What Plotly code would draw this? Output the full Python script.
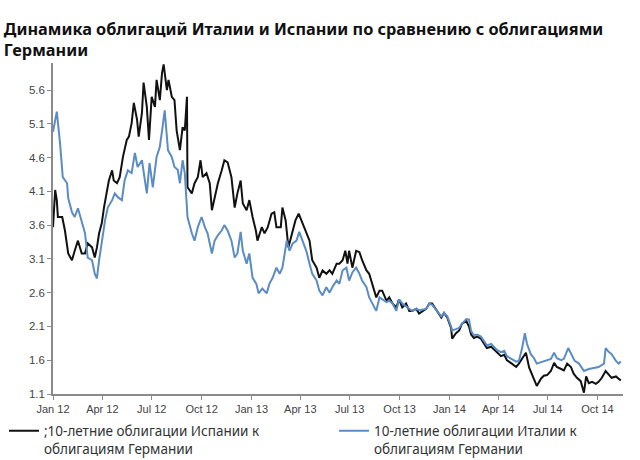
import pandas as pd
import plotly.graph_objects as go

# Days since 2012-01-01 and spread values (percentage points)
spain_day = [0, 4, 7, 9, 17, 22, 28, 35, 40, 46, 53, 59, 64, 72, 77, 81, 85, 90, 94, 99,
             103, 109, 112, 118, 123, 129, 136, 140, 145, 149, 155, 158, 164, 167, 173, 177, 182, 188, 191, 197,
             201, 204, 210, 213, 219, 224, 228, 234, 239, 243, 247, 248, 256, 261, 267, 272, 276, 283, 289, 293,
             298, 304, 311, 316, 322, 329, 335, 340, 346, 350, 357, 362, 368, 374, 377, 385, 390, 396, 403, 408,
             412, 420, 423, 429, 434, 442, 447, 453, 460, 467, 473, 478, 486, 491, 497, 504, 510, 515, 523, 528,
             534, 539, 543, 546, 552, 559, 565, 570, 578, 583, 589, 596, 602, 607, 615, 620, 626, 633, 638, 644,
             651, 657, 662, 670, 675, 688, 694, 699, 708, 716, 721, 727, 734, 736, 743, 749, 754, 762, 767, 771,
             776, 782, 789, 795, 800, 808, 813, 819, 826, 832, 837, 846, 854, 859, 865, 872, 878, 883, 891, 892,
             900, 905, 911, 918, 924, 929, 937, 942, 948, 955, 960, 966, 973, 979, 983, 988, 994, 1001, 1006, 1012,
             1019, 1025, 1030, 1038, 1043, 1047]
spain_val = [3.57, 4.12, 3.97, 3.72, 3.72, 3.52, 3.18, 3.08, 3.22, 3.37, 3.18, 3.18, 3.33, 3.27, 3.12, 3.27, 3.48, 3.63, 3.86, 4.07,
             4.26, 4.41, 4.26, 4.22, 4.31, 4.61, 4.86, 4.91, 5.11, 5.41, 5.16, 4.91, 5.26, 5.71, 5.35, 4.86, 5.50, 5.35, 5.75, 5.45,
             5.85, 5.98, 5.60, 5.75, 5.50, 5.45, 5.00, 4.71, 5.05, 5.00, 5.50, 4.16, 4.07, 4.22, 4.31, 4.56, 4.31, 4.37, 4.22, 3.82,
             4.01, 4.22, 4.41, 4.56, 4.53, 4.31, 3.86, 4.07, 4.26, 3.92, 3.82, 3.97, 3.72, 3.52, 3.37, 3.57, 3.48, 3.57, 3.77, 3.79,
             3.57, 3.57, 3.86, 3.67, 3.27, 3.52, 3.67, 3.77, 3.63, 3.48, 3.37, 3.08, 2.97, 2.82, 2.93, 2.88, 2.93, 2.88, 3.03, 3.03,
             3.08, 3.22, 3.03, 3.22, 2.97, 3.22, 3.20, 3.08, 2.93, 2.88, 2.73, 2.53, 2.63, 2.63, 2.48, 2.53, 2.44, 2.38, 2.50, 2.38,
             2.44, 2.33, 2.33, 2.36, 2.29, 2.36, 2.44, 2.44, 2.33, 2.23, 2.30, 2.23, 2.08, 1.92, 2.00, 2.04, 2.14, 2.18, 2.10, 1.98,
             1.93, 1.95, 1.92, 1.84, 1.78, 1.80, 1.76, 1.71, 1.66, 1.68, 1.60, 1.55, 1.50, 1.55, 1.63, 1.71, 1.49, 1.40, 1.26, 1.22,
             1.33, 1.37, 1.38, 1.44, 1.56, 1.50, 1.47, 1.45, 1.55, 1.50, 1.40, 1.34, 1.29, 1.12, 1.36, 1.26, 1.28, 1.25, 1.28, 1.34,
             1.44, 1.38, 1.34, 1.36, 1.32, 1.30]

italy_day = [0, 7, 13, 18, 26, 28, 35, 40, 46, 53, 59, 64, 72, 77, 81, 85, 90, 96, 101, 109,
             114, 120, 127, 132, 138, 145, 151, 156, 164, 169, 173, 178, 184, 191, 197, 202, 206, 212, 219, 224,
             230, 234, 239, 243, 248, 256, 261, 267, 274, 280, 285, 293, 298, 304, 311, 316, 322, 329, 335, 340,
             346, 350, 357, 362, 368, 375, 379, 386, 394, 399, 405, 412, 418, 423, 431, 436, 442, 449, 454, 460,
             467, 473, 478, 486, 491, 497, 504, 510, 515, 523, 528, 534, 541, 546, 552, 559, 565, 570, 578, 583,
             589, 596, 602, 607, 615, 620, 626, 633, 638, 644, 651, 657, 662, 670, 675, 688, 694, 699, 708, 716,
             721, 727, 734, 736, 743, 749, 754, 762, 767, 771, 776, 782, 789, 795, 800, 808, 813, 819, 826, 832,
             837, 846, 854, 859, 865, 870, 874, 881, 887, 892, 900, 905, 911, 918, 924, 929, 937, 942, 950, 955,
             962, 970, 979, 988, 997, 1006, 1016, 1019, 1025, 1030, 1038, 1043, 1047]
italy_val = [4.98, 5.28, 4.81, 4.31, 4.22, 4.00, 3.79, 3.72, 3.85, 3.63, 3.48, 3.12, 3.08, 2.88, 2.81, 3.08, 3.37, 3.67, 3.86, 3.97,
             4.07, 4.01, 3.97, 4.26, 4.41, 4.37, 4.67, 4.46, 4.56, 4.26, 4.07, 4.52, 4.16, 4.61, 4.76, 5.05, 5.30, 4.71, 4.61, 4.46,
             4.42, 4.22, 4.56, 4.37, 3.72, 3.48, 3.37, 3.57, 3.72, 3.57, 3.48, 3.18, 3.37, 3.45, 3.52, 3.60, 3.52, 3.37, 3.12, 3.18,
             3.50, 3.22, 3.03, 3.18, 2.82, 2.73, 2.59, 2.66, 2.59, 2.73, 2.82, 2.97, 2.88, 2.97, 3.37, 3.22, 3.33, 3.37, 3.50, 3.37,
             3.22, 3.03, 2.88, 2.78, 2.63, 2.56, 2.68, 2.60, 2.68, 2.78, 2.73, 2.93, 2.97, 2.78, 2.90, 2.97, 2.88, 2.78, 2.68, 2.53,
             2.44, 2.33, 2.53, 2.50, 2.46, 2.48, 2.44, 2.33, 2.50, 2.44, 2.40, 2.37, 2.33, 2.36, 2.34, 2.36, 2.44, 2.42, 2.33, 2.25,
             2.30, 2.25, 2.10, 2.04, 2.06, 2.08, 2.14, 2.21, 2.20, 2.03, 1.97, 1.98, 1.95, 1.88, 1.82, 1.84, 1.80, 1.75, 1.72, 1.74,
             1.66, 1.62, 1.58, 1.59, 1.78, 2.00, 1.84, 1.69, 1.63, 1.55, 1.57, 1.59, 1.60, 1.62, 1.71, 1.63, 1.60, 1.62, 1.78, 1.70,
             1.59, 1.55, 1.44, 1.47, 1.49, 1.50, 1.55, 1.78, 1.72, 1.69, 1.59, 1.55, 1.58]

tick_dates = ["2012-01-01", "2012-04-01", "2012-07-01", "2012-10-01", "2013-01-01", "2013-04-01",
              "2013-07-01", "2013-10-01", "2014-01-01", "2014-04-01", "2014-07-01", "2014-10-01"]
tick_labels = ["Jan 12", "Apr 12", "Jul 12", "Oct 12", "Jan 13", "Apr 13",
               "Jul 13", "Oct 13", "Jan 14", "Apr 14", "Jul 14", "Oct 14"]
y_ticks = [1.1, 1.6, 2.1, 2.6, 3.1, 3.6, 4.1, 4.6, 5.1, 5.6]

title_text = "Динамика облигаций Италии и Испании по сравнению с облигациями<br>Германии"
spain_name = ";10-летние облигации Испании к<br>облигациям Германии"
italy_name = "10-летние облигации Италии к<br>облигациям Германии"

base = pd.Timestamp("2012-01-01")
spain_x = [base + pd.Timedelta(days=d) for d in spain_day]
italy_x = [base + pd.Timedelta(days=d) for d in italy_day]

fig = go.Figure()
fig.add_trace(go.Scatter(x=spain_x, y=spain_val, mode="lines", name=spain_name,
                         legendwidth=285,
                         line=dict(color="#111111", width=2)))
fig.add_trace(go.Scatter(x=italy_x, y=italy_val, mode="lines", name=italy_name,
                         legendwidth=215,
                         line=dict(color="#5b8cc4", width=2)))

fig.update_layout(
    width=640, height=460,
    paper_bgcolor="white", plot_bgcolor="white",
    margin=dict(l=53, r=17, t=63, b=66, autoexpand=False),
    title=dict(text=title_text, x=0.006, xanchor="left", y=0.924, yanchor="top",
               font=dict(family="Noto Sans", size=16.3, color="#111111", weight="bold")),
    showlegend=True,
    legend=dict(orientation="h", x=-0.086, xanchor="left", y=-0.065, yanchor="top",
                valign="top",
                font=dict(family="Noto Sans", size=13.5, color="#333333"),
                itemwidth=30, tracegroupgap=0),
)
fig.update_xaxes(range=[base, base + pd.Timedelta(days=1051)],
                 tickvals=pd.to_datetime(tick_dates), ticktext=tick_labels,
                 showline=True, linecolor="#8a8a8a", linewidth=1.5,
                 ticks="outside", ticklen=4, tickcolor="#8a8a8a",
                 showgrid=False, zeroline=False, automargin=False,
                 tickfont=dict(family="Liberation Sans", size=11, color="#444444"))
fig.update_yaxes(range=[1.1, 6.0], tickvals=y_ticks, ticktext=[f"{v:.1f}" for v in y_ticks],
                 showline=True, linecolor="#8a8a8a", linewidth=1.5,
                 ticks="outside", ticklen=4, tickcolor="#8a8a8a",
                 showgrid=False, zeroline=False, automargin=False,
                 tickfont=dict(family="Liberation Sans", size=11.5, color="#444444"))

fig.write_html("out.html")
